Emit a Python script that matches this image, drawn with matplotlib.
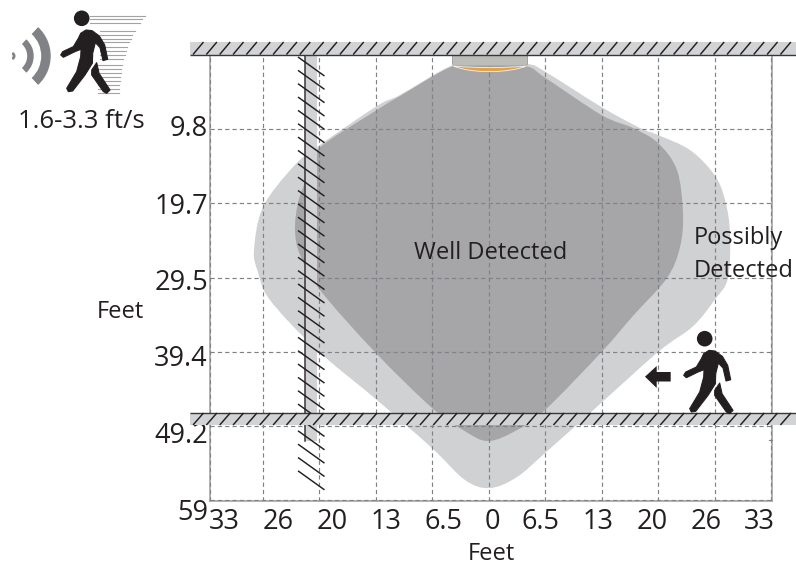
import numpy as np
import matplotlib
matplotlib.use("Agg")
import matplotlib.pyplot as plt
from matplotlib.path import Path
from matplotlib.patches import PathPatch, Circle, Polygon, Wedge, Rectangle, FancyBboxPatch
from matplotlib.transforms import ScaledTranslation

plt.rcParams['font.family'] = ['Open Sans', 'DejaVu Sans']

W, H = 796, 565
INK = '#231f20'
LIGHT = '#d0d1d3'
DARK = '#a6a6a8'
WALL = '#d1d3d4'

# Coverage outlines, in feet (x across, y distance from the sensor)
possibly_x = [0.0, 4.54, 6.50, 13.0, 17.43, 19.50, 23.18, 26.0, 27.21, 27.78, 27.55, 26.0, 23.5, 19.5, 11.68,
              6.5, 3.28, 0.17, -2.70, -6.5, -12.83, -19.73, -25.14, -26.52, -26.98, -25.94, -22.49, -19.73,
              -12.83, -10.18, -4.08]
possibly_y = [0.9, 1.2, 2.2, 6.90, 9.68, 10.61, 12.60, 15.91, 19.23, 23.60, 29.57, 32.49, 36.0, 39.39, 47.47,
              52.78, 55.96, 57.42, 56.36, 52.12, 45.75, 39.12, 32.49, 28.78, 25.86, 20.16, 14.85, 12.2,
              6.76, 5.30, 1.33]
well_x = [0.0, 4.43, 6.5, 13.0, 16.62, 19.5, 21.68, 22.37, 22.03, 20.53, 16.62, 13.0, 6.5, 3.28, -0.06, -2.93,
          -6.5, -13.06, -19.38, -21.68, -22.26, -21.92, -21.0, -19.73, -12.83, -10.18, -4.08]
well_y = [0.9, 1.5, 3.0, 7.96, 9.68, 11.67, 15.25, 20.95, 25.46, 29.57, 34.6, 39.39, 47.08, 49.73, 51.19, 49.73,
          46.8, 39.39, 31.16, 26.5, 23.21, 19.63, 16.5, 12.6, 7.29, 5.44, 1.46]

x_ticks = [-32, -26, -19.5, -13, -6.5, 0, 6.5, 13, 19.5, 26, 32.5]
x_labels = ['33', '26', '20', '13', '6.5', '0', '6.5', '13', '20', '26', '33']
x_nudge = [13.7, 15.5, 13, 10.5, 11, 3.5, -5, -3.5, -6, -8.5, -12]
y_ticks = [9.84, 19.68, 29.52, 39.36, 49.2, 59.0]
y_labels = ['9.8', '19.7', '29.5', '39.4', '49.2', '59']
y_nudge = [4, 0, -1.4, -4, -6, -10]


def closed_spline(xs, ys):
    p = np.column_stack([xs, ys])
    n = len(p)
    verts = [p[0]]
    codes = [Path.MOVETO]
    for i in range(n):
        p0, p1, p2, p3 = p[i - 1], p[i], p[(i + 1) % n], p[(i + 2) % n]
        verts += [p1 + (p2 - p0) / 6, p2 - (p3 - p1) / 6, p2]
        codes += [Path.CURVE4] * 3
    return Path(verts, codes)


fig = plt.figure(figsize=(W / 100, H / 100), dpi=100, facecolor='white')
ax = fig.add_axes([210 / W, 1 - 500.7 / H, (771.7 - 210) / W, (500.7 - 55) / H])
ax.set_xlim(-32.04, 32.58)
ax.set_ylim(59.1, 0)

ax.add_patch(PathPatch(closed_spline(possibly_x, possibly_y), fc=LIGHT, ec='none', zorder=1))
ax.add_patch(PathPatch(closed_spline(well_x, well_y), fc=DARK, ec='none', zorder=2))

ax.set_xticks(x_ticks, x_labels)
ax.set_yticks(y_ticks, y_labels)
ax.tick_params(length=0, labelsize=19.5, labelcolor=INK, pad=5)
ax.tick_params(axis='y', pad=1.5)
for tick, dx in zip(ax.xaxis.get_major_ticks(), x_nudge):
    tick.label1.set_transform(tick.label1.get_transform() + ScaledTranslation(dx / 100, 0, fig.dpi_scale_trans))
for tick, dy in zip(ax.yaxis.get_major_ticks(), y_nudge):
    tick.label1.set_transform(tick.label1.get_transform() + ScaledTranslation(0, dy / 100, fig.dpi_scale_trans))
ax.grid(True, color='#808285', lw=0.85, ls=(0, (3.6, 2.6)), zorder=3)
ax.set_axisbelow(False)
for s in ax.spines.values():
    s.set_color('#a7a9ac')
    s.set_linewidth(1.3)
ax.spines['top'].set_visible(False)

ax.text(0.3, 26.3, 'Well Detected', fontsize=17, color=INK, ha='center', va='center', zorder=6)
ax.text(23.6, 24.2, 'Possibly', fontsize=17, color=INK, ha='left', va='center', zorder=6)
ax.text(23.6, 28.6, 'Detected', fontsize=17, color=INK, ha='left', va='center', zorder=6)
fig.text(491 / W, 1 - 554 / H, 'Feet', fontsize=17, color=INK, ha='center', va='center')
fig.text(120 / W, 1 - 312 / H, 'Feet', fontsize=17, color=INK, ha='center', va='center')
fig.text(81 / W, 1 - 122 / H, '1.6-3.3 ft/s', fontsize=18.5, color=INK, ha='center', va='center')

# Overlay in pixel units for the walls and pictograms
ov = fig.add_axes([0, 0, 1, 1], zorder=5)
ov.set_xlim(0, W)
ov.set_ylim(H, 0)
ov.axis('off')
ov.patch.set_alpha(0)


def hline_wall(y0, y1, line_y, z, x0=190, x1=796):
    ov.add_patch(Rectangle((x0, y0), x1 - x0, y1 - y0, fc=WALL, ec='none', zorder=z))
    ov.plot([x0, x1], [line_y, line_y], color='#3a3536', lw=1.0, zorder=z + 0.1, solid_capstyle='butt')
    for x in np.arange(x0 + 3, x1 - 4, 13.35):
        ov.plot([x, x + 10.5], [y1, y0], color=INK, lw=1.05, zorder=z + 0.1, solid_capstyle='butt')


# vertical wall
ov.add_patch(Rectangle((305, 55), 12, 386, fc=WALL, ec='none', zorder=1))
ov.plot([305.3, 305.3], [55, 441], color='#3a3536', lw=1.1, zorder=2)
for y in np.arange(57, 472, 13.35):
    ov.plot([298, 324.5], [y, y + 19], color=INK, lw=1.05, zorder=2, solid_capstyle='butt')

hline_wall(413, 425, 413.3, 3)
ov.plot([769, 772], [439.5, 439.5], color='#808285', lw=0.8)

# sensor, then the ceiling over it
ov.add_patch(FancyBboxPatch((452.5, 48), 75, 18, boxstyle='round,pad=0,rounding_size=3', fc='#bcbdb9',
                            ec='#9a9a98', lw=0.6, zorder=5))
cres = Path([(453.5, 66), (470, 73.5), (508, 73.5), (526.5, 66), (510, 68), (470, 68), (453.5, 66)],
            [Path.MOVETO, Path.CURVE4, Path.CURVE4, Path.CURVE4, Path.CURVE4, Path.CURVE4, Path.CURVE4])
ov.add_patch(PathPatch(cres, fc='#e0a24a', ec='#f2f2f2', lw=0.6, zorder=5.5))
hline_wall(42, 54.5, 54.5, 5.6)

ICON_BODY = [(228, 60), (246, 62), (268, 78), (284, 105), (293, 148), (279, 152), (270, 113), (256, 98), (248, 130),
             (247, 160), (225, 195), (188, 243), (175, 245), (170, 235), (200, 185), (212, 140), (213, 118),
             (195, 125), (160, 142), (152, 135), (158, 125), (190, 110), (205, 85), (212, 70)]
ICON_LEG = [(260, 158), (267, 190), (300, 240), (290, 250), (280, 245), (245, 195), (245, 180)]


def walker(hx, hy):
    ov.add_patch(Circle((hx, hy), 7.8, fc=INK, ec='none', zorder=7))
    for shape in (ICON_BODY, ICON_LEG):
        pts = [(hx + (a - 215) / 3, hy + (b - 25) / 3) for a, b in shape]
        ov.add_patch(Polygon(pts, closed=True, fc=INK, ec=INK, lw=0.8, joinstyle='round', zorder=7))


# speed lines behind the top pictogram
for y_z, x_z, x0_z in ((17, 405, 240), (28, 397, 240), (40, 390, 240), (62, 375, 270), (75, 365, 270), (87, 362, 270),
                       (97, 358, 270), (110, 352, 270), (122, 347, 270), (135, 344, 270), (148, 340, 270),
                       (165, 335, 265), (178, 333, 265), (190, 332, 265), (202, 331, 265), (213, 330, 265),
                       (225, 328, 265), (237, 327, 265), (248, 327, 265)):
    ov.plot([10 + x0_z / 3, 10 + x_z / 3], [10 + y_z / 3, 10 + y_z / 3], color='#a3a3a3', lw=0.8, zorder=6)

walker(81.7, 18.3)
walker(704.7, 338.7)

# direction arrow
ov.add_patch(Polygon([(645, 376.7), (656.7, 366), (656.7, 372), (670.7, 372), (670.7, 381.5), (656.7, 381.5),
                      (656.7, 388)], closed=True, fc=INK, ec='none', zorder=7))

# sound waves
for r0, r1, a in ((30, 39.5, 47), (16, 22.5, 48), (1.5, 4.3, 70)):
    ov.add_patch(Wedge((11.2, 56), r1, -a, a, width=r1 - r0, fc='#808285', ec='none', zorder=7))

fig.savefig('out.png', dpi=100)
